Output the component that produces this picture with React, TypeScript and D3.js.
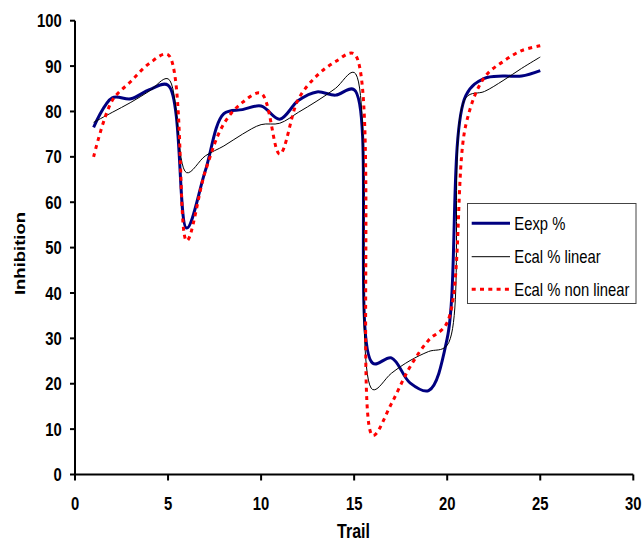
import React from "react";
import * as d3 from "d3";

const trails = [1, 2, 3, 4, 5, 6, 7, 8, 9, 10, 11, 12, 13, 14, 15, 16, 17, 18, 19, 20, 21, 22, 23, 24, 25];
const eexp = [76.5, 83, 82.8, 84.8, 85.8, 54.3, 66.9, 79.5, 80.4, 81.2, 78.3, 82.4, 84.3, 83.6, 84.8, 24.5, 25.7, 20.2, 18.5, 30, 83.5, 87.3, 87.8, 87.8, 89];
const ecalLinear = [77.6, 79.8, 82, 84.5, 87.2, 66.5, 70.2, 72.4, 75, 77.1, 77.4, 79.8, 82.3, 85.1, 88.6, 18.7, 22.3, 25.1, 27.1, 28.5, 83, 84.4, 86.8, 89.5, 92];
const ecalNonLinear = [70, 82.4, 86.6, 90.6, 92.5, 51.5, 66.8, 77.3, 82, 84, 70.6, 82.7, 87.9, 91, 92.7, 8.6, 15.6, 23.7, 29.6, 33.5, 77, 87.5, 91, 93.4, 94.5];

const xTicks = [0, 5, 10, 15, 20, 25, 30];
const yTicks = [0, 10, 20, 30, 40, 50, 60, 70, 80, 90, 100];
const seriesNames = ["Eexp %", "Ecal % linear", "Ecal % non linear"];
const xTitle = "Trail";
const yTitle = "Inhibition";

const FONT = "'Liberation Sans', Arial, sans-serif";
const SX = 0.8;

export default function App() {
  const x = d3.scaleLinear().domain([0, 30]).range([75, 633.3]);
  const y = d3.scaleLinear().domain([0, 100]).range([474.5, 20.7]);

  const mk = (vals: number[]) =>
    d3
      .line<number>()
      .x((_, i) => x(trails[i]))
      .y((v) => y(v))
      .curve(d3.curveCatmullRom.alpha(0.5))(vals) || "";

  const series = [
    { vals: eexp, stroke: "#000080", width: 3, dash: undefined as string | undefined },
    { vals: ecalLinear, stroke: "#000000", width: 1, dash: undefined },
    { vals: ecalNonLinear, stroke: "#ff0000", width: 3, dash: "4,4.3" },
  ];

  const legX = 467.5;
  const legY = 203.5;
  const legRows = [223.3, 256.7, 289.3];

  return (
    <svg
      width={642}
      height={543}
      style={{ position: "absolute", left: 0, top: 0, background: "#fff" }}
      fontFamily={FONT}
    >
      <rect x={0} y={0} width={642} height={543} fill="#fff" />
      {/* axes */}
      <line x1={x(0)} x2={x(0)} y1={y(100)} y2={y(0)} stroke="#000" strokeWidth={2} />
      <line x1={x(0)} x2={x(30)} y1={y(0)} y2={y(0)} stroke="#000" strokeWidth={2} />
      {yTicks.map((t) => (
        <g key={"y" + t}>
          <line x1={x(0) - 5} x2={x(0)} y1={y(t)} y2={y(t)} stroke="#000" strokeWidth={2} />
          <text
            transform={`translate(${61.7},${y(t) + 6.6}) scale(${SX},1)`}
            textAnchor="end"
            fontSize={18.5}
            fontWeight="bold"
          >
            {t}
          </text>
        </g>
      ))}
      {xTicks.map((t) => (
        <g key={"x" + t}>
          <line x1={x(t)} x2={x(t)} y1={y(0)} y2={y(0) + 6} stroke="#000" strokeWidth={2} />
          <text
            transform={`translate(${x(t)},${510}) scale(${SX},1)`}
            textAnchor="middle"
            fontSize={18.5}
            fontWeight="bold"
          >
            {t}
          </text>
        </g>
      ))}
      <text
        transform={`translate(${353.5},${538}) scale(${SX},1)`}
        textAnchor="middle"
        fontSize={20}
        fontWeight="bold"
      >
        {xTitle}
      </text>
      <text
        transform={`translate(${25},${253.5}) rotate(-90) scale(1,${SX})`}
        textAnchor="middle"
        fontSize={18.5}
        fontWeight="bold"
      >
        {yTitle}
      </text>

      {/* series */}
      {series.map((s, i) => (
        <path
          key={i}
          d={mk(s.vals)}
          fill="none"
          stroke={s.stroke}
          strokeWidth={s.width}
          strokeDasharray={s.dash}
          strokeLinejoin="round"
        />
      ))}

      {/* legend */}
      <rect x={legX} y={legY} width={168.5} height={100} fill="#fff" stroke="#444" strokeWidth={1} />
      {series.map((s, i) => (
        <g key={"l" + i}>
          <line
            x1={471.7}
            x2={510}
            y1={legRows[i]}
            y2={legRows[i]}
            stroke={s.stroke}
            strokeWidth={s.width}
            strokeDasharray={s.dash}
          />
          <text
            transform={`translate(${514.3},${legRows[i] + 6.2}) scale(${SX},1)`}
            fontSize={18.5}
          >
            {seriesNames[i]}
          </text>
        </g>
      ))}
    </svg>
  );
}
